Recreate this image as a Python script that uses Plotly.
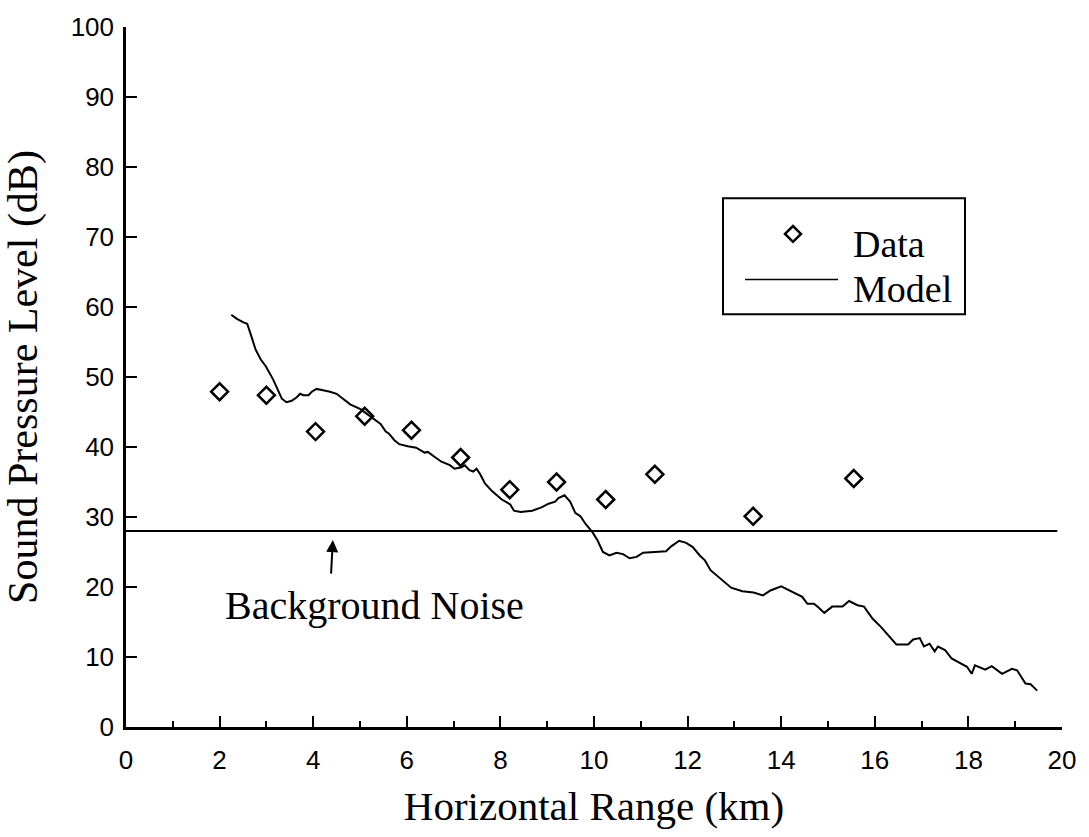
import plotly.graph_objects as go

# ---------------- data ----------------
data_x = [2.0, 3.0, 4.05, 5.1, 6.1, 7.15, 8.2, 9.2, 10.25, 11.3, 13.4, 15.55]
data_y = [47.9, 47.4, 42.2, 44.4, 42.4, 38.5, 33.9, 35.0, 32.5, 36.1, 30.1, 35.5]

model_x = [2.25, 2.37, 2.51, 2.59, 2.66, 2.77, 2.88, 2.99, 3.14, 3.25,
           3.33, 3.43, 3.54, 3.65, 3.72, 3.79, 3.90, 3.97, 4.07, 4.21,
           4.36, 4.50, 4.65, 4.79, 5.01, 5.15, 5.29, 5.44, 5.55, 5.62,
           5.73, 5.84, 6.02, 6.20, 6.38, 6.45, 6.59, 6.74, 6.92, 7.02,
           7.17, 7.24, 7.34, 7.42, 7.49, 7.56, 7.67, 7.82, 8.03, 8.21,
           8.29, 8.43, 8.68, 8.89, 9.03, 9.17, 9.24, 9.37, 9.49, 9.60,
           9.71, 9.82, 9.97, 10.08, 10.19, 10.33, 10.48, 10.62, 10.76, 10.91,
           11.05, 11.33, 11.54, 11.65, 11.82, 11.97, 12.11, 12.26, 12.37, 12.49,
           12.73, 12.93, 13.17, 13.41, 13.61, 13.77, 14.00, 14.24, 14.45, 14.56,
           14.70, 14.81, 14.92, 15.09, 15.31, 15.45, 15.63, 15.77, 15.95, 16.13,
           16.28, 16.46, 16.71, 16.82, 16.96, 17.05, 17.17, 17.28, 17.35, 17.50,
           17.64, 17.86, 17.97, 18.07, 18.14, 18.36, 18.50, 18.72, 18.93, 19.04,
           19.22, 19.33, 19.47]
model_y = [58.9, 58.3, 57.8, 57.6, 56.2, 53.9, 52.5, 51.5, 49.7, 48.0,
           46.9, 46.4, 46.6, 47.1, 47.6, 47.4, 47.4, 47.9, 48.3, 48.1,
           47.9, 47.6, 46.8, 46.1, 45.4, 44.7, 44.0, 43.3, 42.2, 41.9,
           41.0, 40.4, 40.1, 39.9, 39.2, 39.3, 38.6, 37.9, 37.4, 36.9,
           37.1, 37.4, 36.7, 36.5, 36.9, 36.2, 34.8, 33.7, 32.5, 31.8,
           30.9, 30.7, 30.9, 31.4, 31.9, 32.2, 32.7, 33.1, 32.2, 30.6,
           30.1, 29.0, 27.8, 26.6, 25.0, 24.5, 24.9, 24.7, 24.1, 24.3,
           24.9, 25.0, 25.1, 25.8, 26.6, 26.3, 25.7, 24.5, 23.8, 22.4,
           21.0, 19.9, 19.4, 19.2, 18.8, 19.5, 20.1, 19.3, 18.6, 17.6,
           17.6, 17.0, 16.3, 17.2, 17.2, 18.0, 17.4, 17.2, 15.5, 14.3,
           13.2, 11.8, 11.8, 12.5, 12.7, 11.5, 11.9, 10.8, 11.5, 11.0,
           9.8, 9.0, 8.6, 7.6, 8.8, 8.2, 8.7, 7.6, 8.3, 8.1,
           6.2, 6.1, 5.2]

noise_x = [0, 19.9]
noise_y = [28, 28]

x_ticks = [0, 2, 4, 6, 8, 10, 12, 14, 16, 18, 20]
y_ticks = [0, 10, 20, 30, 40, 50, 60, 70, 80, 90, 100]

SERIF = "Liberation Serif, Times New Roman, serif"
SANS = "Liberation Sans, Arial, sans-serif"

fig = go.Figure()
fig.add_trace(go.Scatter(x=noise_x, y=noise_y, mode="lines",
                         line=dict(color="black", width=2), showlegend=False))
fig.add_trace(go.Scatter(x=model_x, y=model_y, mode="lines", name="Model",
                         line=dict(color="black", width=2), showlegend=False))
fig.add_trace(go.Scatter(x=data_x, y=data_y, mode="markers", name="Data",
                         marker=dict(symbol="diamond-open", size=13,
                                     color="black", line=dict(width=2.5, color="black")),
                         showlegend=False))

# manual legend (paper coordinates: x=(px-126)/936, y=(727-py)/707)
def px2x(px):
    return (px - 126) / 936.0

def py2y(py):
    return (727 - py) / 707.0

lx0, lx1, ly0, ly1 = px2x(723), px2x(965), py2y(310), py2y(193)
dcx, dcy, ddx, ddy = px2x(793), py2y(229), 8 / 936.0, 8 / 707.0
shapes = [
    dict(type="rect", xref="paper", yref="paper", x0=lx0, x1=lx1, y0=ly0, y1=ly1,
         line=dict(color="black", width=2), fillcolor="white", layer="below"),
    dict(type="path", xref="paper", yref="paper",
         path=f"M {dcx-ddx},{dcy} L {dcx},{dcy+ddy} L {dcx+ddx},{dcy} L {dcx},{dcy-ddy} Z",
         line=dict(color="black", width=2.5)),
    dict(type="line", xref="paper", yref="paper", x0=px2x(745), x1=px2x(838),
         y0=py2y(275), y1=py2y(275), line=dict(color="black", width=1.5)),
]

annotations = [
    dict(text="Data", xref="paper", yref="paper", x=px2x(851), y=py2y(239), xanchor="left",
         yanchor="middle", showarrow=False, font=dict(family=SERIF, size=38, color="black")),
    dict(text="Model", xref="paper", yref="paper", x=px2x(851), y=py2y(285), xanchor="left",
         yanchor="middle", showarrow=False, font=dict(family=SERIF, size=38, color="black")),
    dict(text="", x=4.42, y=26.7, ax=4.38, ay=21.7, xref="x", yref="y", axref="x", ayref="y",
         showarrow=True, arrowhead=2, arrowsize=1.2, arrowwidth=2, arrowcolor="black"),
    dict(text="Background Noise", x=5.32, y=17.3, xref="x", yref="y", showarrow=False,
         xanchor="center", yanchor="middle", font=dict(family=SERIF, size=40, color="black")),
]

fig.update_layout(
    width=1089, height=837,
    margin=dict(l=126, r=27, t=20, b=110),
    paper_bgcolor="white", plot_bgcolor="white",
    shapes=shapes, annotations=annotations,
    showlegend=False,
)
fig.update_xaxes(
    range=[0, 20], tickvals=x_ticks, ticktext=[str(v) for v in x_ticks],
    showline=True, linecolor="black", linewidth=2.5,
    ticks="inside", ticklen=11, tickwidth=2, tickcolor="black",
    minor=dict(dtick=1, ticks="inside", ticklen=6, tickwidth=2, tickcolor="black"),
    showgrid=False, zeroline=False, ticklabelstandoff=8,
    tickfont=dict(family=SANS, size=26, color="black"),
    title=dict(text="Horizontal Range (km)", font=dict(family=SERIF, size=41, color="black"),
               standoff=18),
)
fig.update_yaxes(
    range=[0, 100], tickvals=y_ticks, ticktext=[str(v) for v in y_ticks],
    showline=True, linecolor="black", linewidth=2.5,
    ticks="inside", ticklen=11, tickwidth=2, tickcolor="black",
    showgrid=False, zeroline=False, ticklabelstandoff=4,
    tickfont=dict(family=SANS, size=26, color="black"),
    title=dict(text="Sound Pressure Level (dB)", font=dict(family=SERIF, size=42, color="black"),
               standoff=24),
)

fig.write_html("out.html")
